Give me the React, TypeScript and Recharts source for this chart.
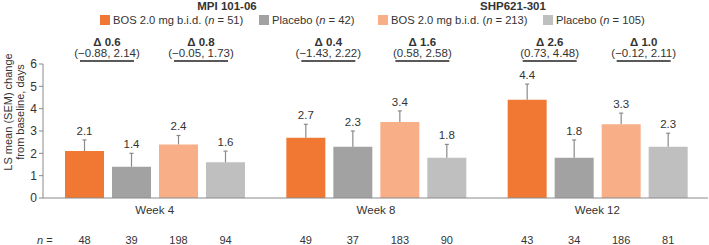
import React from "react";
import { BarChart, Bar, XAxis, YAxis, LabelList } from "recharts";

// Categories
const weeks = ["Week 4", "Week 8", "Week 12"];

// LS mean change from baseline (days) and SEM for each arm
const mpiBos = [2.1, 2.7, 4.4];
const mpiBosSem = [0.5, 0.6, 0.7];
const mpiPbo = [1.4, 2.3, 1.8];
const mpiPboSem = [0.6, 0.7, 0.8];
const shpBos = [2.4, 3.4, 3.3];
const shpBosSem = [0.4, 0.5, 0.5];
const shpPbo = [1.6, 1.8, 2.3];
const shpPboSem = [0.5, 0.6, 0.6];

// Patients contributing at each visit
const mpiBosN = [48, 49, 43];
const mpiPboN = [39, 37, 34];
const shpBosN = [198, 183, 186];
const shpPboN = [94, 90, 81];

// Treatment differences with 95% CI
const mpiDelta = ["Δ 0.6", "Δ 0.4", "Δ 2.6"];
const mpiCi = ["(−0.88, 2.14)", "(−1.43, 2.22)", "(0.73, 4.48)"];
const shpDelta = ["Δ 0.8", "Δ 1.6", "Δ 1.0"];
const shpCi = ["(−0.05, 1.73)", "(0.58, 2.58)", "(−0.12, 2.11)"];

const yTicks = [0, 1, 2, 3, 4, 5, 6];

const FONT = "'Liberation Sans', Arial, sans-serif";
const AXIS = "#8a8a8a";
const TEXT = "#333";
const BAR_GAP = 8;

const series = [
  { key: "mpiBos", values: mpiBos, sem: mpiBosSem, n: mpiBosN, color: "#F07833", name: "BOS 2.0 mg b.i.d.", total: 51 },
  { key: "mpiPbo", values: mpiPbo, sem: mpiPboSem, n: mpiPboN, color: "#A2A2A2", name: "Placebo", total: 42 },
  { key: "shpBos", values: shpBos, sem: shpBosSem, n: shpBosN, color: "#F8AE86", name: "BOS 2.0 mg b.i.d.", total: 213 },
  { key: "shpPbo", values: shpPbo, sem: shpPboSem, n: shpPboN, color: "#BFBFBF", name: "Placebo", total: 105 },
];

const data = weeks.map((week, i) => {
  const row: Record<string, string | number> = { week };
  series.forEach((s) => {
    row[s.key] = s.values[i];
  });
  return row;
});

// Error whisker (upward SEM) plus value label above it
const makeValueMark = (sem: number[]) => (props: any) => {
  const { x, y, width, height, value, index } = props;
  const ppu = height / value;
  const cx = x + width / 2;
  const top = y - sem[index] * ppu;
  return (
    <g>
      <line x1={cx} x2={cx} y1={y} y2={top} stroke={AXIS} strokeWidth={1.2} />
      <line x1={cx - 2} x2={cx + 2} y1={top} y2={top} stroke={AXIS} strokeWidth={1.2} />
      <text x={cx} y={top - 5} textAnchor="middle" fontSize={11.5} fill={TEXT} fontFamily={FONT}>
        {Number(value).toFixed(1)}
      </text>
    </g>
  );
};

// Per-bar patient count row under the axis
const makeCount = (counts: number[]) => (props: any) => {
  const { x, y, width, height, index } = props;
  return (
    <text x={x + width / 2} y={y + height + 46} textAnchor="middle" fontSize={11} fill={TEXT} fontFamily={FONT}>
      {counts[index]}
    </text>
  );
};

// Difference annotation spanning a pair of adjacent bars
const makeDelta = (deltas: string[], cis: string[]) => (props: any) => {
  const { x, width, index } = props;
  const cx = x + width + BAR_GAP / 2 - 1;
  return (
    <g fontFamily={FONT}>
      <text x={cx} y={46} textAnchor="middle" fontSize={11.5} fontWeight="bold" fill={TEXT}>
        {deltas[index]}
      </text>
      <text x={cx} y={57} textAnchor="middle" fontSize={11.5} fill={TEXT}>
        {cis[index]}
      </text>
      <line x1={cx - 27} x2={cx + 27} y1={61} y2={61} stroke="#222" strokeWidth={1.5} />
    </g>
  );
};

const YLabel = () => (
  <g fontFamily={FONT} fontSize={11} fill={TEXT}>
    <text transform="translate(12,112) rotate(-90)" textAnchor="middle">
      LS mean (SEM) change
    </text>
    <text transform="translate(24,112) rotate(-90)" textAnchor="middle">
      from baseline, days
    </text>
  </g>
);

const LegendItem = ({ x, color, name, total }: { x: number; color: string; name: string; total: number }) => (
  <g>
    <rect x={x} y={15} width={10} height={10} fill={color} />
    <text x={x + 13} y={24} fontSize={11.2} fill={TEXT}>
      {name} (<tspan fontStyle="italic">n</tspan> = {total})
    </text>
  </g>
);

export default function App() {
  return (
    <div style={{ position: "relative", width: 709, height: 245, background: "#fff" }}>
      <style>{"body{margin:0}"}</style>
      <BarChart
        width={709}
        height={245}
        data={data}
        margin={{ top: 64, right: 1, left: 0, bottom: 0 }}
        barSize={39}
        barGap={BAR_GAP}
      >
        <XAxis
          dataKey="week"
          height={47}
          tickLine={false}
          axisLine={{ stroke: AXIS }}
          tick={{ fontSize: 11.5, fill: TEXT, fontFamily: FONT }}
          tickMargin={2}
          padding={{ left: 1, right: 0 }}
        />
        <YAxis
          width={43}
          domain={[0, 6]}
          ticks={yTicks}
          interval={0}
          tickSize={4}
          tickLine={{ stroke: AXIS }}
          axisLine={{ stroke: AXIS }}
          tick={{ fontSize: 12, fill: TEXT, fontFamily: FONT }}
        />
        {series.map((s, si) => (
          <Bar key={s.key} dataKey={s.key} fill={s.color} isAnimationActive={false}>
            <LabelList dataKey={s.key} content={makeValueMark(s.sem)} />
            <LabelList dataKey={s.key} content={makeCount(s.n)} />
            {si === 0 && <LabelList dataKey={s.key} content={makeDelta(mpiDelta, mpiCi)} />}
            {si === 2 && <LabelList dataKey={s.key} content={makeDelta(shpDelta, shpCi)} />}
          </Bar>
        ))}
      </BarChart>
      <svg
        width={709}
        height={245}
        style={{ position: "absolute", left: 0, top: 0, pointerEvents: "none" }}
        fontFamily={FONT}
      >
        <YLabel />
        <text x={227} y={10} textAnchor="middle" fontSize={11.5} fontWeight="bold" fill={TEXT}>
          MPI 101-06
        </text>
        <text x={513} y={10} textAnchor="middle" fontSize={11.5} fontWeight="bold" fill={TEXT}>
          SHP621-301
        </text>
        <LegendItem x={100} color={series[0].color} name={series[0].name} total={series[0].total} />
        <LegendItem x={259} color={series[1].color} name={series[1].name} total={series[1].total} />
        <LegendItem x={378} color={series[2].color} name={series[2].name} total={series[2].total} />
        <LegendItem x={543} color={series[3].color} name={series[3].name} total={series[3].total} />
        <text x={37} y={244} fontSize={11} fill={TEXT}>
          <tspan fontStyle="italic">n</tspan> =
        </text>
      </svg>
    </div>
  );
}
